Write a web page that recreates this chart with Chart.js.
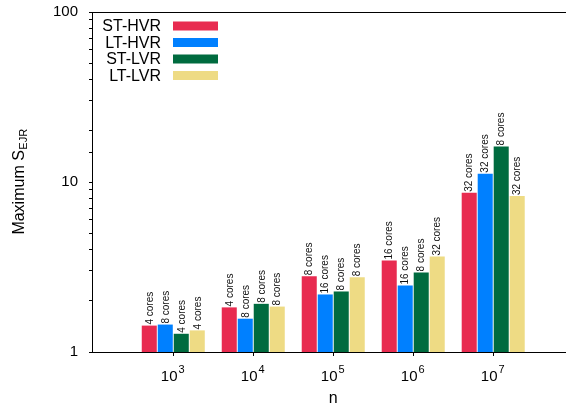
<!DOCTYPE html>
<html>
<head>
<meta charset="utf-8">
<script src="https://cdn.jsdelivr.net/npm/chart.js@4.4.1/dist/chart.umd.min.js"></script>
<style>
  html, body { margin: 0; padding: 0; background: #fff; }
  #wrap { width: 566px; height: 410px; }
</style>
</head>
<body>
<div id="wrap"><canvas id="grafico" width="566" height="410"></canvas></div>
<script>
// dados
var expoentes = [3, 4, 5, 6, 7]          // n = 10^expoente
var series = ['ST-HVR', 'LT-HVR', 'ST-LVR', 'LT-LVR']
var cores = ['#E82B50', '#0080FF', '#006B3F', '#EEDB84']

var st_hvr = [1.43, 1.83, 2.79, 3.45, 8.64]
var lt_hvr = [1.45, 1.57, 2.18, 2.46, 11.2]
var st_lvr = [1.28, 1.92, 2.27, 2.94, 16.2]
var lt_lvr = [1.34, 1.85, 2.75, 3.65, 8.26]

var nucleos_st_hvr = [4, 4, 8, 16, 32]
var nucleos_lt_hvr = [8, 8, 16, 16, 32]
var nucleos_st_lvr = [4, 8, 8, 8, 8]
var nucleos_lt_lvr = [4, 8, 8, 32, 32]

var yTicks = [1, 10, 100]

var valores = [st_hvr, lt_hvr, st_lvr, lt_lvr]
var nucleos = [nucleos_st_hvr, nucleos_lt_hvr, nucleos_st_lvr, nucleos_lt_lvr]

var fonte = '"Liberation Sans", Arial, sans-serif'

var datasets = []
for (var i = 0; i < series.length; i++) {
    datasets.push({
        label: series[i],
        data: valores[i].map(function (v, j) { return { x: j + 1, y: v } }),
        backgroundColor: cores[i],
        borderWidth: 0,
        categoryPercentage: 0.8,
        barPercentage: 0.94
    })
}

// desenha legenda, rotulos das barras, titulos e eixo x
var extras = {
    id: 'extras',
    afterDatasetsDraw: function (chart) {
        var ctx = chart.ctx
        ctx.save()
        ctx.fillStyle = '#111'
        ctx.font = '10px ' + fonte
        ctx.textAlign = 'left'
        ctx.textBaseline = 'middle'
        for (var d = 0; d < chart.data.datasets.length; d++) {
            var meta = chart.getDatasetMeta(d)
            meta.data.forEach(function (bar, j) {
                ctx.save()
                ctx.translate(bar.x + 0.5, bar.y - 1)
                ctx.rotate(-Math.PI / 2)
                ctx.fillText(nucleos[d][j] + ' cores', 0, 0)
                ctx.restore()
            })
        }
        ctx.restore()
    },
    afterDraw: function (chart) {
        var ctx = chart.ctx
        var area = chart.chartArea
        var xs = chart.scales.x
        ctx.save()

        // borda superior
        ctx.strokeStyle = '#000'
        ctx.lineWidth = 1
        ctx.beginPath()
        ctx.moveTo(area.left, Math.round(area.top) + 0.5)
        ctx.lineTo(area.right, Math.round(area.top) + 0.5)
        ctx.stroke()

        // legenda
        ctx.font = '16px ' + fonte
        ctx.textAlign = 'right'
        ctx.textBaseline = 'middle'
        chart.data.datasets.forEach(function (ds, k) {
            var y = 26 + k * 16.5
            ctx.fillStyle = '#000'
            ctx.fillText(ds.label, 161, y + 1)
            ctx.fillStyle = ds.backgroundColor
            ctx.fillRect(173, y - 4.5, 45, 9)
        })

        // rotulos do eixo x: 10^k
        ctx.fillStyle = '#000'
        ctx.textBaseline = 'alphabetic'
        expoentes.forEach(function (e, j) {
            var x = xs.getPixelForValue(j + 1)
            ctx.font = '15px ' + fonte
            var w1 = ctx.measureText('10').width
            ctx.font = '11px ' + fonte
            var w2 = ctx.measureText(String(e)).width
            var x0 = x - (w1 + w2) / 2 - 1
            ctx.textAlign = 'left'
            ctx.font = '15px ' + fonte
            ctx.fillText('10', x0, 380.5)
            ctx.font = '11px ' + fonte
            ctx.fillText(String(e), x0 + w1 + 1, 373)
        })

        // titulo eixo x
        ctx.font = '16px ' + fonte
        ctx.textAlign = 'center'
        ctx.fillText('n', xs.getPixelForValue(3), 403)

        // titulo eixo y com subscrito
        ctx.save()
        ctx.translate(24, (area.top + area.bottom) / 2)
        ctx.rotate(-Math.PI / 2)
        ctx.font = '16px ' + fonte
        var t1 = 'Maximum S'
        var wa = ctx.measureText(t1).width
        ctx.font = '11px ' + fonte
        var wb = ctx.measureText('EJR').width
        var sx = -(wa + wb) / 2
        ctx.textAlign = 'left'
        ctx.font = '16px ' + fonte
        ctx.fillText(t1, sx, 0)
        ctx.font = '11px ' + fonte
        ctx.fillText('EJR', sx + wa + 0.5, 3)
        ctx.restore()

        ctx.restore()
    }
}

var grafico = new Chart(document.getElementById('grafico'), {
    type: 'bar',
    data: { datasets: datasets },
    options: {
        responsive: false,
        animation: false,
        layout: { padding: { top: 12, right: 0, left: 0, bottom: 0 } },
        plugins: {
            legend: { display: false },
            tooltip: { enabled: false }
        },
        scales: {
            x: {
                type: 'linear',
                offset: false,
                min: -0.016,
                max: 5.91,
                afterBuildTicks: function (s) {
                    s.ticks = expoentes.map(function (e, j) { return { value: j + 1 } })
                },
                afterFit: function (s) { s.height = 58; s.paddingLeft = 0; s.paddingRight = 0 },
                ticks: { display: false },
                grid: { display: true, offset: false, drawOnChartArea: false, drawTicks: true, tickLength: 4, color: '#000' },
                border: { display: true, color: '#000', width: 1 }
            },
            y: {
                type: 'logarithmic',
                min: 1,
                max: 100,
                afterFit: function (s) { s.width = 92; s.paddingTop = 0; s.paddingBottom = 0 },
                ticks: {
                    autoSkip: false,
                    color: '#000',
                    padding: 11,
                    font: { family: fonte, size: 15 },
                    callback: function (v) {
                        return yTicks.indexOf(v) !== -1 ? String(v) : ''
                    }
                },
                grid: { display: true, drawOnChartArea: false, drawTicks: true, tickLength: 3, color: '#000' },
                border: { display: true, color: '#000', width: 1 }
            }
        }
    },
    plugins: [extras]
})
</script>
</body>
</html>
